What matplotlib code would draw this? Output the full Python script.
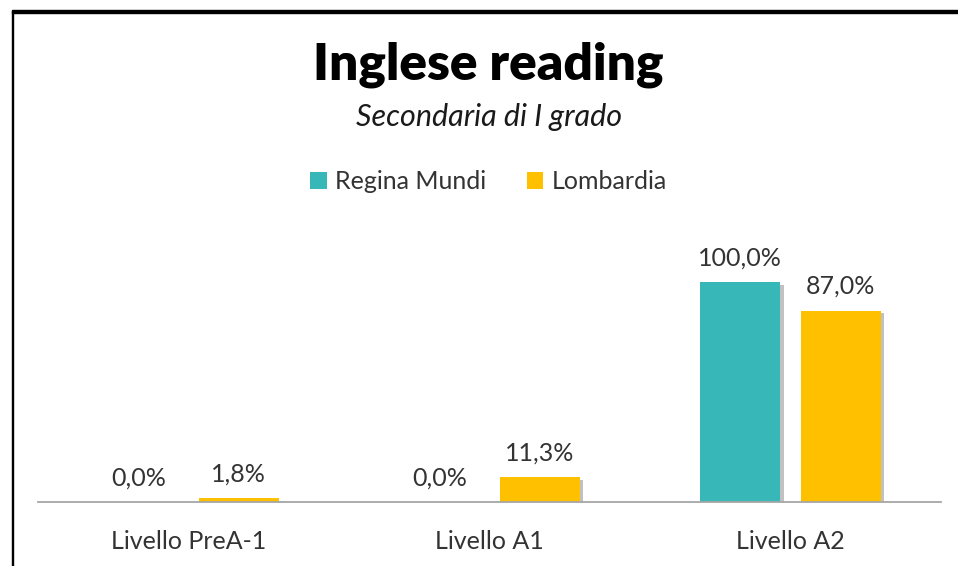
import matplotlib
matplotlib.use("Agg")
import matplotlib.pyplot as plt
import matplotlib.patheffects as pe
from matplotlib.patches import Rectangle
import numpy as np

categories = ["Livello PreA-1", "Livello A1", "Livello A2"]
regina_mundi = [0.0, 0.0, 100.0]
lombardia = [1.8, 11.3, 87.0]
series_names = ["Regina Mundi", "Lombardia"]
colors = ["#38B7B8", "#FFC000"]

plt.rcParams["font.family"] = ["Lato", "DejaVu Sans"]

fig = plt.figure(figsize=(9.58, 5.66), dpi=100)
ax = fig.add_axes([0.0397, 0.1131, 0.9426, 0.4806])

x = np.arange(len(categories))
width = 0.267
offset = 0.167
shadow = [pe.SimplePatchShadow(offset=(2.5, -2), shadow_rgbFace="#777777", alpha=0.45), pe.Normal()]

for vals, name, color, sign in [(regina_mundi, series_names[0], colors[0], -1),
                                (lombardia, series_names[1], colors[1], 1)]:
	bars = ax.bar(x + sign * offset, vals, width, color=color, label=name, zorder=3)
	for b in bars:
		if b.get_height() > 0:
			b.set_path_effects(shadow)
	for xi, v in zip(x + sign * offset, vals):
		ax.annotate(("%.1f%%" % v).replace(".", ","), (xi, v), xytext=(0, 9),
					textcoords="offset points", ha="center", va="bottom",
					fontsize=18, color="#333333")

ax.set_xlim(-0.5, 2.5)
ax.set_ylim(0, 123.6)
ax.set_xticks(x)
ax.set_xticklabels(categories, fontsize=18, color="#333333")
ax.tick_params(axis="x", length=0, pad=20)
ax.set_yticks([])
for s in ["top", "right", "left"]:
	ax.spines[s].set_visible(False)
ax.spines["bottom"].set_color("#A6A6A6")
ax.spines["bottom"].set_linewidth(1.3)
ax.spines["bottom"].set_zorder(4)

fig.text(0.510, 0.885, "Inglese reading", ha="center", va="center",
		 fontsize=37, fontweight="heavy", color="#000000")
fig.text(0.510, 0.793, "Secondaria di I grado", ha="center", va="center",
		 fontsize=22, style="italic", color="#1a1a1a")

leg = fig.legend(loc="center", bbox_to_anchor=(0.51, 0.679), ncol=2, frameon=False,
				 fontsize=18, handlelength=0.65, handleheight=0.65, handletextpad=0.35,
				 columnspacing=1.6)
for t in leg.get_texts():
	t.set_color("#333333")
for h in leg.legend_handles:
	h.set_path_effects([])

# frame on left and top
fig.patches.append(Rectangle((11.5 / 958, -0.1), 2 / 958, 1.1 - 11 / 566,
							 transform=fig.transFigure, color="black", zorder=10))
fig.patches.append(Rectangle((11.5 / 958, 1 - 13 / 566), 1.0, 2.5 / 566,
							 transform=fig.transFigure, color="black", zorder=10))

plt.savefig("out.png", dpi=100)
